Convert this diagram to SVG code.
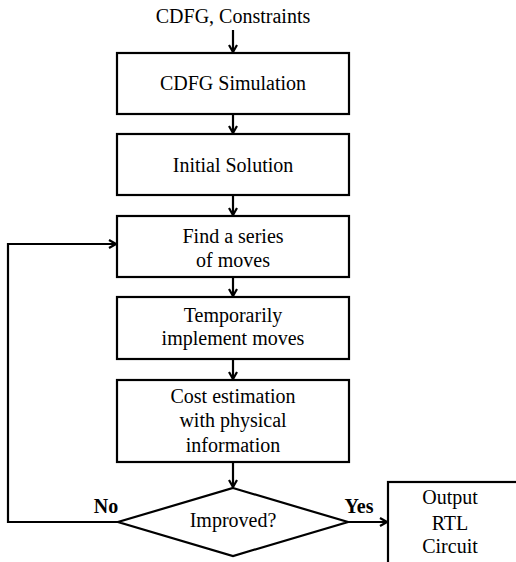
<svg xmlns="http://www.w3.org/2000/svg" width="516" height="562" viewBox="0 0 516 562">
<style>
.box{fill:#fff;stroke:#000;stroke-width:2.2}
.t{font-family:"Liberation Serif","Times New Roman",serif;font-size:20px;fill:#000;text-anchor:middle}
.b{font-weight:bold}
.ln{fill:none;stroke:#000;stroke-width:2.2}
</style>
<defs>
<marker id="ah" viewBox="0 0 10 10" refX="9" refY="5" markerWidth="10" markerHeight="10" markerUnits="userSpaceOnUse" orient="auto">
<path d="M2,1 L9,5 L2,9" fill="none" stroke="#000" stroke-width="2.2"/>
</marker>
</defs>
<rect width="516" height="562" fill="#fff"/>
<text class="t" x="233" y="23">CDFG, Constraints</text>
<g id="connectors">
<line class="ln" x1="233" y1="30" x2="233" y2="52" marker-end="url(#ah)"/>
<line class="ln" x1="233" y1="114" x2="233" y2="133" marker-end="url(#ah)"/>
<line class="ln" x1="233" y1="195" x2="233" y2="215" marker-end="url(#ah)"/>
<line class="ln" x1="233" y1="277" x2="233" y2="296" marker-end="url(#ah)"/>
<line class="ln" x1="233" y1="359" x2="233" y2="379" marker-end="url(#ah)"/>
<line class="ln" x1="233" y1="462" x2="233" y2="487" marker-end="url(#ah)"/>
<polyline class="ln" points="118,522 8,522 8,244 116,244" marker-end="url(#ah)"/>
<line class="ln" x1="348" y1="522" x2="387" y2="522" marker-end="url(#ah)"/>
</g>
<g id="simulation"><rect class="box" x="117" y="53" width="232" height="61"/><text class="t" x="233" y="90">CDFG Simulation</text></g>
<g id="initial"><rect class="box" x="117" y="134" width="232" height="61"/><text class="t" x="233" y="172">Initial Solution</text></g>
<g id="find"><rect class="box" x="117" y="216" width="232" height="61"/><text class="t" x="233" y="243">Find a series</text><text class="t" x="233" y="267">of moves</text></g>
<g id="implement"><rect class="box" x="117" y="297" width="232" height="62"/><text class="t" x="233" y="322">Temporarily</text><text class="t" x="233" y="345">implement moves</text></g>
<g id="cost"><rect class="box" x="117" y="380" width="232" height="82"/><text class="t" x="233" y="403">Cost estimation</text><text class="t" x="233" y="427">with physical</text><text class="t" x="233" y="452">information</text></g>
<g id="improved"><polygon class="box" points="233,488 348,522 233,556 118,522"/><text class="t" x="233" y="527">Improved?</text></g>
<g id="output"><rect class="box" x="388" y="482" width="140" height="100"/><text class="t" x="450" y="504">Output</text><text class="t" x="450" y="530">RTL</text><text class="t" x="450" y="553">Circuit</text></g>
<text class="t b" x="106" y="513">No</text>
<text class="t b" x="359" y="513">Yes</text>
</svg>
